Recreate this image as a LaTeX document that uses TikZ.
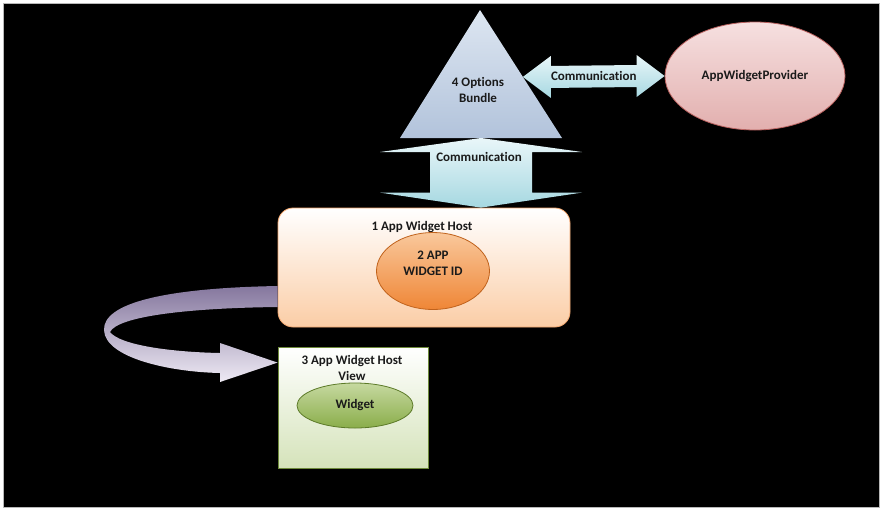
\documentclass[tikz,border=0pt]{standalone}
\usepackage{fontspec}
\setmainfont{Carlito}[Ligatures=NoCommon]
\usepackage{tikz}
\usetikzlibrary{shapes.geometric,calc}
\definecolor{InkDark}{HTML}{1A1A1A}
\definecolor{FrameGray}{HTML}{B8B8B8}
\definecolor{BundleTop}{HTML}{DDE6F1}
\definecolor{BundleBot}{HTML}{B2C3DB}
\definecolor{CommTop}{HTML}{E9F6F9}
\definecolor{CommBot}{HTML}{A6D8E1}
\definecolor{HostBot}{HTML}{FBCDA6}
\definecolor{HostLine}{HTML}{F2A66E}
\definecolor{IdTop}{HTML}{F9C89C}
\definecolor{IdBot}{HTML}{EF8636}
\definecolor{IdLine}{HTML}{C0621C}
\definecolor{ViewBot}{HTML}{D5E3BA}
\definecolor{ViewLine}{HTML}{6E8A3A}
\definecolor{LeafTop}{HTML}{C6D9A0}
\definecolor{LeafBot}{HTML}{8AAD4A}
\definecolor{LeafLine}{HTML}{5C7A28}
\definecolor{ProvTop}{HTML}{F6E0E0}
\definecolor{ProvBot}{HTML}{E2AFAE}
\definecolor{ProvLine}{HTML}{B8605E}
\definecolor{LoopTop}{HTML}{85779E}
\definecolor{LoopBot}{HTML}{EEEAF4}

\begin{document}
\begin{tikzpicture}[
  x=1pt,y=-1pt,
  every node/.style={font=\fontsize{13}{16}\selectfont\bfseries,align=center,text=InkDark,inner sep=0pt},
  bundlefill/.style={top color=BundleTop,bottom color=BundleBot},
  commfill/.style={top color=CommTop,bottom color=CommBot},
  hostbox/.style={draw=HostLine,line width=0.8pt,top color=white,bottom color=HostBot,rounded corners=15pt,minimum width=292pt,minimum height=119pt},
  idblob/.style={ellipse,draw=IdLine,line width=0.8pt,top color=IdTop,bottom color=IdBot,minimum width=113pt,minimum height=77pt},
  viewbox/.style={draw=ViewLine,line width=0.8pt,top color=white,bottom color=ViewBot,minimum width=150pt,minimum height=121pt},
  leafblob/.style={ellipse,draw=LeafLine,line width=0.8pt,top color=LeafTop,bottom color=LeafBot,minimum width=116pt,minimum height=45pt},
  provblob/.style={ellipse,draw=ProvLine,line width=0.8pt,top color=ProvTop,bottom color=ProvBot,minimum width=180pt,minimum height=108pt},
  loopfill/.style={top color=LoopTop,bottom color=LoopBot}
]
\useasboundingbox (0,0) rectangle (882,512);
% frame
\fill[white] (0,0) rectangle (882,512);
\draw[FrameGray,fill=black,line width=1pt] (3,3) rectangle (879,507);

% bundle triangle
\coordinate (apex) at (480,10);
\coordinate (bl) at (400,138);
\coordinate (br) at (562,138);
\path[bundlefill] (apex) -- (br) -- (bl) -- cycle;
\node (bundle) at (478,90) {4 Options\\Bundle};

% boxes and blobs
\node[provblob] (provider) at (755,76) {AppWidgetProvider};
\node[hostbox] (host) at (424,267.5) {};
\node (hosttitle) at (422,227) {1 App Widget Host};
\node[idblob] (widgetid) at (433,271) {};
\node (idtext) at (433,263) {2 APP\\WIDGET ID};
\node[viewbox] (hostview) at (353,407.5) {};
\node (viewtitle) at (352,368) {3 App Widget Host\\View};
\node[leafblob] (widget) at (355,405.5) {Widget};

% bundle <-> provider
\coordinate (hL) at ($(apex)!0.523!(br)$);
\coordinate (hR) at (provider.west);
\path[commfill] (hL) -- ($(hL)+(28,-21)$) -- ($(hL)+(28,-11)$) -- ($(hR)+(-28,-11)$)
  -- ($(hR)+(-28,-21)$) -- (hR) -- ($(hR)+(-28,21)$) -- ($(hR)+(-28,11)$)
  -- ($(hL)+(28,11)$) -- ($(hL)+(28,21)$) -- cycle;
\node (commh) at ($(hL)!0.5!(hR)$) {Communication};

% bundle <-> host
\coordinate (vT) at ($(bl)!0.5!(br)$);
\coordinate (vB) at (vT |- host.north);
\path[commfill] (vT) -- ($(vT)+(101,14)$) -- ($(vT)+(51,14)$) -- ($(vB)+(51,-15)$)
  -- ($(vB)+(101,-15)$) -- (vB) -- ($(vB)+(-101,-15)$) -- ($(vB)+(-51,-15)$)
  -- ($(vT)+(-51,14)$) -- ($(vT)+(-101,14)$) -- cycle;
\node (commv) at ($(vT)+(-2,19)$) {Communication};

% host -> host view
\coordinate (c1) at ($(host.west)+(0,18.5)$);
\coordinate (c2) at ($(host.west)+(0,39.5)$);
\coordinate (tip) at ($(hostview.north west)+(0,16)$);
\path[loopfill] (c1) .. controls (165,288) and (103,303) .. (104,330)
  .. controls (105,358) and (170,372) .. (220,373) -- (220,382) -- (tip)
  -- (220,343) -- (220,353) .. controls (170,352) and (120,345) .. (110,332)
  .. controls (118,316) and (190,308) .. (c2) -- cycle;
\end{tikzpicture}
\end{document}
